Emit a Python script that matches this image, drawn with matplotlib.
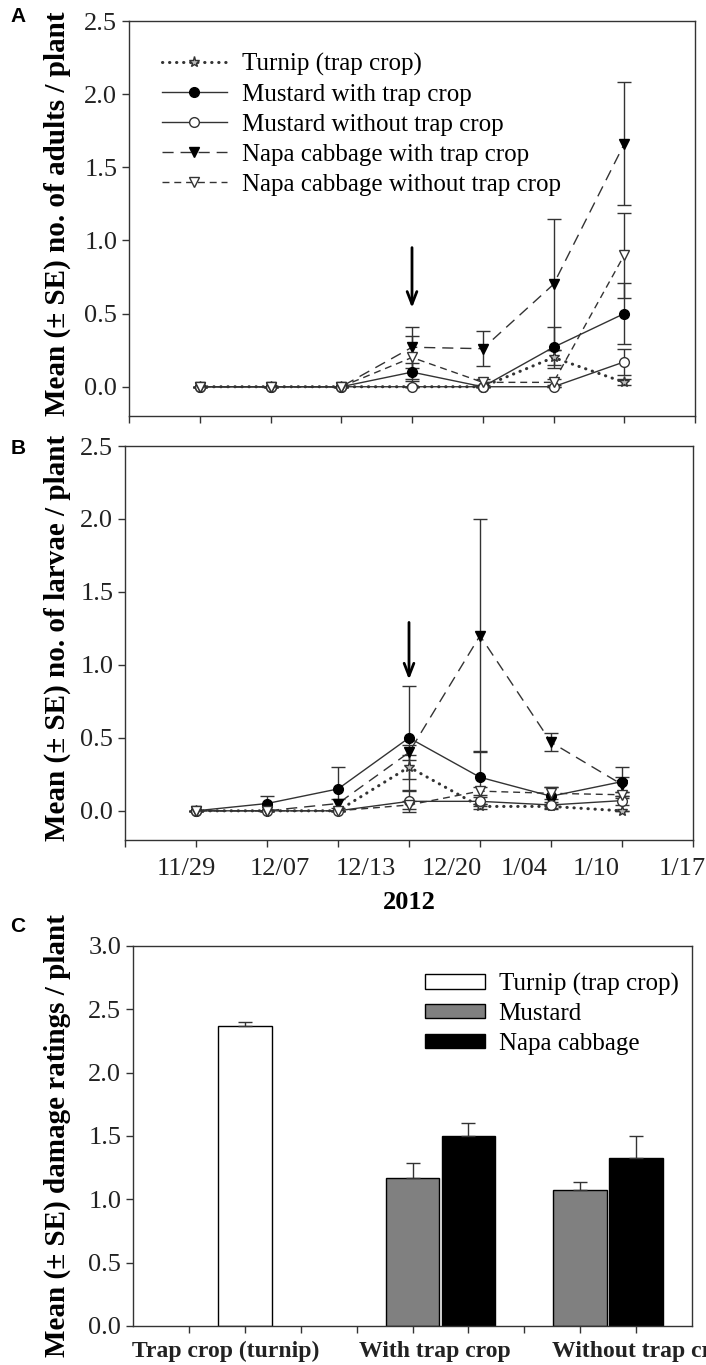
import numpy as np
import matplotlib
matplotlib.use("Agg")
import matplotlib.pyplot as plt

plt.rcParams['font.family'] = ['Liberation Serif', 'DejaVu Serif']

W, H = 706, 1365

# sampling dates (x positions 1..7 on a 0..8 axis)
xpos = [1, 2, 3, 4, 5, 6, 7]
date_labels = ['11/29', '12/07', '12/13', '12/20', '1/04', '1/10', '1/17']
date_label_pos = [0.87, 2.18, 3.39, 4.6, 5.62, 6.63, 7.85]

series_names = ['Turnip (trap crop)', 'Mustard with trap crop', 'Mustard without trap crop',
                'Napa cabbage with trap crop', 'Napa cabbage without trap crop']

# panel A: adults
adult_turnip = [0, 0, 0, 0, 0, 0.2, 0.03]
adult_turnip_se = [0, 0, 0, 0, 0, 0.05, 0.02]
adult_mustard_with = [0, 0, 0, 0.1, 0, 0.27, 0.5]
adult_mustard_with_se = [0, 0, 0, 0.06, 0, 0.14, 0.21]
adult_mustard_without = [0, 0, 0, 0, 0, 0, 0.17]
adult_mustard_without_se = [0, 0, 0, 0, 0, 0, 0.09]
adult_napa_with = [0, 0, 0, 0.27, 0.26, 0.7, 1.66]
adult_napa_with_se = [0, 0, 0, 0.14, 0.12, 0.45, 0.42]
adult_napa_without = [0, 0, 0, 0.2, 0.03, 0.03, 0.9]
adult_napa_without_se = [0, 0, 0, 0.15, 0.02, 0.02, 0.29]

# panel B: larvae
larvae_turnip = [0, 0, 0, 0.3, 0.03, 0.03, 0.0]
larvae_turnip_se = [0, 0, 0, 0.08, 0.02, 0.02, 0]
larvae_mustard_with = [0, 0.05, 0.15, 0.5, 0.23, 0.1, 0.2]
larvae_mustard_with_se = [0, 0.05, 0.15, 0.357, 0.18, 0.06, 0.1]
larvae_mustard_without = [0, 0, 0, 0.065, 0.065, 0.04, 0.07]
larvae_mustard_without_se = [0, 0, 0, 0.07, 0.03, 0.02, 0.03]
larvae_napa_with = [0, 0, 0.05, 0.4, 1.2, 0.47, 0.18]
larvae_napa_with_se = [0, 0, 0.03, 0.05, 0.8, 0.06, 0.05]
larvae_napa_without = [0, 0, 0, 0.04, 0.135, 0.12, 0.11]
larvae_napa_without_se = [0, 0, 0, 0.03, 0.03, 0.04, 0.02]

# panel C: damage ratings
groups = ['Trap crop (turnip)', 'With trap crop', 'Without trap crop']
group_label_pos = [1.66, 5.4, 9.15]
turnip_pos = [2]
turnip_damage = [2.37]
turnip_damage_se = [0.03]
mustard_pos = [5, 8]
mustard_damage = [1.17, 1.07]
mustard_damage_se = [0.12, 0.07]
napa_pos = [6, 9]
napa_damage = [1.5, 1.33]
napa_damage_se = [0.1, 0.17]

LC = '#333333'
styles = [
    dict(ls=(0, (0.1, 2.2)), lw=2.2, marker='*', ms=8, mfc='#bbbbbb', mec=LC, dash_capstyle='round'),
    dict(ls='-', lw=1.0, marker='o', ms=7, mfc='black', mec='black'),
    dict(ls='-', lw=1.0, marker='o', ms=7, mfc='white', mec=LC),
    dict(ls=(0, (8, 5)), lw=1.0, marker='v', ms=7, mfc='black', mec='black'),
    dict(ls=(0, (5, 3.5)), lw=1.0, marker='v', ms=7, mfc='white', mec=LC),
]


def px_axes(l, t, r, b):
    return fig.add_axes([l / W, 1 - b / H, (r - l) / W, (b - t) / H])


def style_axes(ax):
    for s in ax.spines.values():
        s.set_color(LC)
        s.set_linewidth(1.0)
    ax.tick_params(which='both', direction='out', length=5, width=1, colors=LC, labelsize=19,
                   labelcolor='#222222', top=False, right=False)


def draw_series(ax, data):
    for (vals, se), st, name in zip(data, styles, series_names):
        ax.errorbar(xpos, vals, yerr=se, color=LC, ecolor=LC, elinewidth=1,
                    capsize=5, capthick=1, label=name, **st)


fig = plt.figure(figsize=(W / 100, H / 100), dpi=100)

# ---- A ----
axA = px_axes(129, 21, 695, 416)
draw_series(axA, [(adult_turnip, adult_turnip_se),
                  (adult_mustard_with, adult_mustard_with_se),
                  (adult_mustard_without, adult_mustard_without_se),
                  (adult_napa_with, adult_napa_with_se),
                  (adult_napa_without, adult_napa_without_se)])
axA.set_xlim(0, 8)
axA.set_ylim(-0.2, 2.5)
axA.set_yticks([0, 0.5, 1.0, 1.5, 2.0, 2.5])
axA.set_xticks(range(9))
axA.set_xticklabels([])
style_axes(axA)
handles, labels = axA.get_legend_handles_labels()
handles = [h[0] for h in handles]
axA.legend(handles, labels, loc='upper left', bbox_to_anchor=(0.058, 0.92), frameon=False,
           fontsize=18, handlelength=2.6, handletextpad=0.6, labelspacing=0.3,
           borderaxespad=0, borderpad=0)
axA.annotate('', xy=(4, 0.52), xytext=(4, 0.97),
             arrowprops=dict(arrowstyle='->,head_length=0.9,head_width=0.35', color='black', lw=2))

# ---- B ----
axB = px_axes(125, 446, 693, 840)
draw_series(axB, [(larvae_turnip, larvae_turnip_se),
                  (larvae_mustard_with, larvae_mustard_with_se),
                  (larvae_mustard_without, larvae_mustard_without_se),
                  (larvae_napa_with, larvae_napa_with_se),
                  (larvae_napa_without, larvae_napa_without_se)])
axB.set_xlim(0, 8)
axB.set_ylim(-0.2, 2.5)
axB.set_yticks([0, 0.5, 1.0, 1.5, 2.0, 2.5])
axB.set_xticks(range(9))
axB.set_xticklabels([])
axB.set_xticks(date_label_pos, date_labels, minor=True)
style_axes(axB)
axB.tick_params(axis='x', which='minor', length=0, pad=13)
axB.set_xlabel('2012', fontsize=19, fontweight='bold', labelpad=8)
axB.annotate('', xy=(4, 0.88), xytext=(4, 1.31),
             arrowprops=dict(arrowstyle='->,head_length=0.9,head_width=0.35', color='black', lw=2))

# ---- C ----
axC = px_axes(133, 946, 692, 1326)
bw = 0.96
axC.bar(turnip_pos, turnip_damage, bw, color='white', edgecolor='black', lw=1,
        yerr=[[0], turnip_damage_se], capsize=5, error_kw=dict(ecolor=LC, elinewidth=1),
        label='Turnip (trap crop)')
axC.bar(mustard_pos, mustard_damage, bw, color='#808080', edgecolor='black', lw=1,
        yerr=[[0, 0], mustard_damage_se], capsize=5, error_kw=dict(ecolor=LC, elinewidth=1),
        label='Mustard')
axC.bar(napa_pos, napa_damage, bw, color='black', edgecolor='black', lw=1,
        yerr=[[0, 0], napa_damage_se], capsize=5, error_kw=dict(ecolor=LC, elinewidth=1),
        label='Napa cabbage')
axC.set_xlim(0, 10)
axC.set_ylim(0, 3.0)
axC.set_yticks(np.arange(0, 3.01, 0.5))
axC.set_xticks(range(1, 10))
axC.set_xticklabels([])
axC.set_xticks(group_label_pos, groups, minor=True)
style_axes(axC)
axC.tick_params(axis='x', which='minor', length=0, pad=11, labelsize=17)
for t in axC.get_xticklabels(minor=True):
    t.set_fontweight('bold')
axC.legend(loc='upper left', bbox_to_anchor=(0.522, 0.93), frameon=False, fontsize=18,
           handlelength=2.4, handleheight=0.5, handletextpad=0.55, labelspacing=0.3,
           borderaxespad=0, borderpad=0)

# y labels
fig.text(57 / W, 1 - 214 / H, 'Mean (± SE) no. of adults / plant', rotation=90,
         ha='center', va='center', fontsize=21, fontweight='bold')
fig.text(57 / W, 1 - 638 / H, 'Mean (± SE) no. of larvae / plant', rotation=90,
         ha='center', va='center', fontsize=21, fontweight='bold')
fig.text(57 / W, 1 - 1136 / H, 'Mean (± SE) damage ratings / plant', rotation=90,
         ha='center', va='center', fontsize=21, fontweight='bold')

# panel letters
for letter, y in [('A', 17), ('B', 449), ('C', 927)]:
    fig.text(18 / W, 1 - y / H, letter, ha='center', va='center', fontsize=15,
             fontweight='bold', family=['Liberation Sans', 'DejaVu Sans'])

fig.savefig('out.png', dpi=100)
